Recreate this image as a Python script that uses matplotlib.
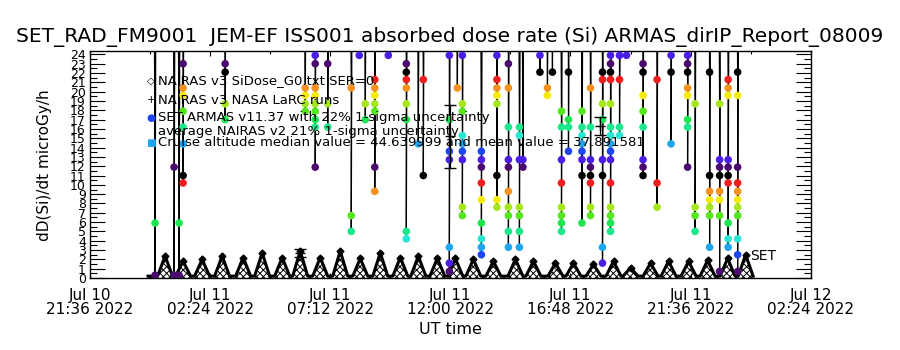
import numpy as np
import pandas as pd
import matplotlib
matplotlib.use('Agg')
import matplotlib.pyplot as plt
import matplotlib.dates as mdates

# hours after 2022-07-11 00:00 UT
t_ref = np.datetime64('2022-07-11T00:00')

# NAIRAS v3 SiDose curve, one hump per half orbit
hump_start = [0.3, 1.02, 1.78, 2.58, 3.42, 4.18, 4.98, 5.7, 6.5, 7.3, 8.1, 8.9, 9.7, 10.42, 11.18, 11.9,
              12.62, 13.42, 14.3, 15.02, 15.9, 16.62, 17.42, 18.22, 18.9, 19.7, 20.42, 21.22, 21.98, 22.78, 23.5]
hump_peak_t = [0.6, 1.32, 2.08, 2.88, 3.72, 4.48, 5.28, 6.0, 6.8, 7.6, 8.4, 9.2, 10.0, 10.72, 11.48, 12.2,
               12.92, 13.72, 14.6, 15.32, 16.2, 16.92, 17.72, 18.52, 19.2, 20.0, 20.72, 21.52, 22.28, 23.08, 23.8]
hump_peak_v = [2.35, 1.8, 2.0, 2.35, 2.2, 2.7, 2.2, 2.9, 2.2, 2.9, 2.1, 2.7, 2.2, 2.35, 2.1, 2.1,
               2.0, 1.8, 2.0, 1.8, 1.6, 1.6, 1.45, 1.8, 1.1, 1.6, 1.8, 1.8, 1.9, 2.1, 2.5]
hump_end = [0.9, 1.62, 2.38, 3.18, 4.02, 4.78, 5.58, 6.3, 7.1, 7.9, 8.7, 9.5, 10.3, 11.02, 11.78, 12.5,
            13.22, 14.02, 14.9, 15.62, 16.5, 17.22, 18.02, 18.82, 19.5, 20.3, 21.02, 21.82, 22.58, 23.38, 24.1]
curve_start = -0.08
base_v = 0.2

# NAIRAS v3 NASA LaRC runs
larc_t = [6.0, 12.0, 18.0]
larc_v = [2.7, 15.2, 16.3]
larc_err = [0.45, 3.4, 1.0]

# SET ARMAS bursts: time of each burst and the dose rates read in it
armas_t = [0.2, 0.96, 1.16, 1.32, 3.0, 6.2, 6.6, 7.1, 8.04, 8.36, 8.6, 8.98, 9.52, 10.24, 10.72, 10.92,
           11.96, 12.28, 12.48, 13.24, 13.86, 14.32, 14.76, 14.9, 15.58, 15.88, 16.08, 16.44, 16.72,
           17.26, 17.6, 18.08, 18.4, 18.76, 19.04, 19.7, 20.26, 20.82, 21.48, 21.78, 22.36, 22.76,
           23.1, 23.48]
armas_v = [
    [5.9, 0.3],
    [11.9, 0.3],
    [5.9, 0.3],
    [23.0, 20.4, 19.6, 17.9, 16.2, 14.4, 11.0, 10.2],
    [23.0, 22.1, 18.7, 17.0],
    [20.4, 19.6, 18.7, 17.9],
    [23.9, 23.0, 20.4, 19.6, 18.7, 17.9, 17.0, 16.2, 11.9],
    [23.0, 18.7, 16.2],
    [20.4, 6.7, 5.0],
    [23.9],
    [18.7, 17.0],
    [21.3, 20.4, 19.6, 18.7, 17.9, 11.9, 9.3],
    [23.9],
    [23.0, 22.1, 21.3, 20.4, 18.7, 17.0, 5.0, 4.2],
    [14.4],
    [21.3, 11.0],
    [23.9, 17.0, 13.6, 12.7, 3.3, 1.6, 0.7],
    [20.4],
    [23.9, 18.7, 17.9, 15.3, 14.4, 13.6, 12.7, 7.6, 6.7],
    [13.6, 12.7, 11.9, 10.2, 8.4, 5.9, 4.2, 3.3, 2.5],
    [23.9, 21.3, 20.4, 19.6, 18.7, 11.0, 8.4, 7.6],
    [23.0, 20.4, 16.2, 12.7, 11.9, 9.3, 7.6, 6.7, 5.0, 3.3],
    [16.2, 15.3, 12.7, 7.6, 6.7, 5.0, 3.3],
    [12.7, 11.9],
    [23.9, 22.1],
    [20.4, 19.6],
    [22.1],
    [17.9, 16.2, 12.7, 10.2, 7.6, 6.7, 5.9, 5.0],
    [22.1, 17.0, 16.2, 13.6],
    [17.9, 16.2, 15.3, 14.4, 13.6, 12.7, 11.0, 5.9],
    [20.4, 16.2, 12.7, 11.9, 11.0, 10.2, 7.6, 6.7],
    [22.1, 21.3, 18.7, 17.0, 12.7, 11.0, 3.3, 1.6],
    [23.9, 23.0, 22.1, 21.3, 18.7, 16.2, 15.3, 14.4, 13.6, 12.7, 10.2, 7.6, 6.7, 5.9, 5.0],
    [23.9, 21.3, 16.2, 15.3],
    [23.9],
    [23.0, 22.1, 19.6, 17.9, 16.2, 12.7, 11.9, 11.0],
    [21.3, 10.2, 7.6],
    [23.9, 22.1, 14.4],
    [23.9, 23.0, 22.1, 20.4, 19.6, 17.0, 16.2, 11.9],
    [18.7, 7.6, 6.7, 5.0],
    [22.1, 11.0, 9.3, 8.4, 7.6, 6.7, 3.3],
    [18.7, 12.7, 11.9, 11.0, 9.3, 8.4, 6.7, 0.7],
    [21.3, 20.4, 19.6, 12.7, 11.9, 11.0, 10.2, 5.9, 4.2, 3.3],
    [22.1, 19.6, 11.9, 10.2, 9.3, 8.4, 7.6, 6.7, 4.2, 2.5, 0.7],
]
armas_off_scale = 40.0   # readings above the top of the plot

y_ticks = list(range(25))
x_tick_start = '2022-07-10 21:36'

# colour cycle of the dose-rate levels
level_colors = ['#4b1ee6', '#4b0a6e', '#000000', '#f01e1e', '#f5911e', '#f5eb0a', '#a5e61e',
                '#55e61e', '#1ee650', '#1ee68c', '#28e6d2', '#1ea5f0', '#1e46f0']
level_top, level_step = 23.86, 0.857


def tx(hours):
    h = np.asarray(hours, dtype=float)
    return mdates.date2num(t_ref) + h / 24.0


def level_color(v):
    k = int(round((level_top - v) / level_step))
    return level_colors[k % len(level_colors)]


plt.rcParams['hatch.linewidth'] = 0.7
fig = plt.figure(figsize=(9, 3.5), dpi=100)
ax = fig.add_axes([90 / 900, 72 / 350, 720.7 / 900, 227.3 / 350])

# NAIRAS curve
ct = [curve_start]
cv = [base_v]
for a, pt, pv, b in zip(hump_start, hump_peak_t, hump_peak_v, hump_end):
    ct += [a, pt, b]
    cv += [base_v, pv, base_v]
ax.fill_between(tx(ct), 0, cv, facecolor='none', edgecolor='k', hatch='xxxxx', lw=0, zorder=2)
ax.plot(tx(ct), cv, color='k', lw=2.2, zorder=2)
ax.plot(tx(hump_peak_t), hump_peak_v, ls='none', marker='D', ms=3.5, mfc='k', mec='k', zorder=2)

# ARMAS bursts
for t, vals in zip(armas_t, armas_v):
    xs = [t - 0.04] + [t] * len(vals) + [t + 0.04]
    ys = [armas_off_scale] + vals + [armas_off_scale]
    ax.plot(tx(xs), ys, color='k', lw=0.9, zorder=3)
    ax.scatter(tx([t] * len(vals)), vals, c=[level_color(v) for v in vals], s=30,
               edgecolors='none', zorder=4)

# NASA LaRC runs
ax.errorbar(tx(larc_t), larc_v, yerr=larc_err, fmt='+', color='k', ms=7, capsize=4, lw=0.9, zorder=5)

ax.set_ylim(0, 24.4)
ax.set_yticks(y_ticks)
ax.set_yticks(np.arange(0.5, 24.5, 1.0), minor=True)

major = pd.date_range(x_tick_start, periods=7, freq='288min')
minor = pd.date_range(x_tick_start, periods=13, freq='144min')
ax.set_xticks(mdates.date2num(major.to_pydatetime()))
ax.set_xticks(mdates.date2num(minor.to_pydatetime()), minor=True)
ax.set_xlim(mdates.date2num(major[0].to_pydatetime()), mdates.date2num(major[-1].to_pydatetime()))
ax.xaxis.set_major_formatter(mdates.DateFormatter('%b %d\n%H:%M %Y'))

ax.tick_params(axis='y', which='major', direction='in', length=10.8, width=0.8,
               left=True, right=True, labelsize=9, pad=3)
ax.tick_params(axis='y', which='minor', direction='in', length=5.2, width=0.8, left=True, right=True)
ax.tick_params(axis='x', which='major', direction='in', length=3.3, width=0.8,
               top=True, labelsize=11, pad=7)
ax.tick_params(axis='x', which='minor', direction='in', length=1.8, width=0.8, top=True)
for lbl in ax.get_xticklabels():
    lbl.set_linespacing(0.95)
for s in ax.spines.values():
    s.set_linewidth(1.0)


def ax_xy(px, py):
    return (px - 90) / 720.7, (278 - py) / 227.3


fs = 9.5
legend = [
    ('\u25c7', 'k', 81, 'NAIRAS v3 SiDose_G0.txt SER=0'),
    ('+', 'k', 100, 'NAIRAS v3 NASA LaRC runs'),
    ('\u25cf', '#1e46f0', 118, 'SET ARMAS v11.37 with 22% 1-sigma uncertainty'),
    (None, None, 132, 'average NAIRAS v2 21% 1-sigma uncertainty'),
    ('\u25a0', '#1ea5f0', 143, 'Cruise altitude median value = 44.639999 and mean value = 37.891581'),
]
for sym, col, py, txt in legend:
    if sym:
        x, y = ax_xy(151, py)
        ax.text(x, y, sym, color=col, fontsize=7.5, ha='center', va='center', transform=ax.transAxes, zorder=6)
    x, y = ax_xy(158, py)
    ax.text(x, y, txt, fontsize=fs, ha='left', va='center', transform=ax.transAxes, zorder=6)

x, y = ax_xy(750, 256)
ax.text(x, y, 'SET', fontsize=10, ha='left', va='center', transform=ax.transAxes)

fig.text(0.5, 1 - 37 / 350, 'SET_RAD_FM9001  JEM-EF ISS001 absorbed dose rate (Si) ARMAS_dirIP_Report_08009',
         ha='center', va='center', fontsize=14.5)
fig.text(0.5, 1 - 330 / 350, 'UT time', ha='center', va='center', fontsize=11.5)
fig.text(45 / 900, 1 - 165 / 350, 'dD(Si)/dt microGy/h', ha='center', va='center', rotation=90, fontsize=11)

fig.savefig('out.png', dpi=100)
